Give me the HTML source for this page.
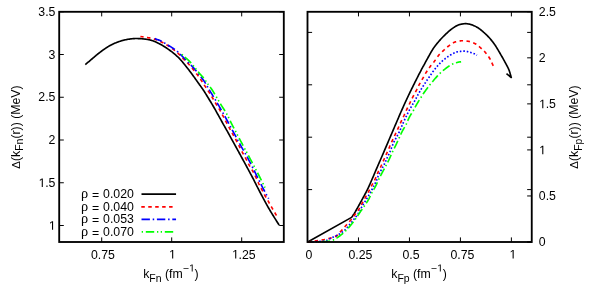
<!DOCTYPE html>
<html><head><meta charset="utf-8"><title>plot</title>
<style>
html,body{margin:0;padding:0;background:#fff;}
body{width:591px;height:295px;overflow:hidden;}
svg{display:block;will-change:transform;}
text{font-family:"Liberation Sans",sans-serif;font-size:12.3px;fill:#000;}
.sub{font-size:10.46px;}
.rho{font-family:"Liberation Serif",serif;font-size:14.3px;}
.c{fill:none;stroke-width:1.65;stroke-linejoin:round;stroke-linecap:butt;}
</style></head><body>
<svg width="591" height="295" viewBox="0 0 591 295">
<rect width="591" height="295" fill="#fff"/>
<g stroke="#000" stroke-width="1" fill="none">
<line x1="101.7" y1="242.0" x2="101.7" y2="237.4"/>
<line x1="101.7" y1="11.8" x2="101.7" y2="16.4"/>
<line x1="171.7" y1="242.0" x2="171.7" y2="237.4"/>
<line x1="171.7" y1="11.8" x2="171.7" y2="16.4"/>
<line x1="241.7" y1="242.0" x2="241.7" y2="237.4"/>
<line x1="241.7" y1="11.8" x2="241.7" y2="16.4"/>
<line x1="59.2" y1="225.50" x2="63.800000000000004" y2="225.50"/>
<line x1="283.8" y1="225.50" x2="279.2" y2="225.50"/>
<line x1="59.2" y1="182.75" x2="63.800000000000004" y2="182.75"/>
<line x1="283.8" y1="182.75" x2="279.2" y2="182.75"/>
<line x1="59.2" y1="140.00" x2="63.800000000000004" y2="140.00"/>
<line x1="283.8" y1="140.00" x2="279.2" y2="140.00"/>
<line x1="59.2" y1="97.25" x2="63.800000000000004" y2="97.25"/>
<line x1="283.8" y1="97.25" x2="279.2" y2="97.25"/>
<line x1="59.2" y1="54.50" x2="63.800000000000004" y2="54.50"/>
<line x1="283.8" y1="54.50" x2="279.2" y2="54.50"/>
<line x1="59.2" y1="11.75" x2="63.800000000000004" y2="11.75"/>
<line x1="283.8" y1="11.75" x2="279.2" y2="11.75"/>
<line x1="307.50" y1="242.0" x2="307.50" y2="237.4"/>
<line x1="307.50" y1="11.8" x2="307.50" y2="16.4"/>
<line x1="358.47" y1="242.0" x2="358.47" y2="237.4"/>
<line x1="358.47" y1="11.8" x2="358.47" y2="16.4"/>
<line x1="409.44" y1="242.0" x2="409.44" y2="237.4"/>
<line x1="409.44" y1="11.8" x2="409.44" y2="16.4"/>
<line x1="460.41" y1="242.0" x2="460.41" y2="237.4"/>
<line x1="460.41" y1="11.8" x2="460.41" y2="16.4"/>
<line x1="511.38" y1="242.0" x2="511.38" y2="237.4"/>
<line x1="511.38" y1="11.8" x2="511.38" y2="16.4"/>
<line x1="307.5" y1="242.00" x2="312.1" y2="242.00"/>
<line x1="531.75" y1="242.00" x2="527.15" y2="242.00"/>
<line x1="307.5" y1="189.60" x2="312.1" y2="189.60"/>
<line x1="531.75" y1="189.60" x2="527.15" y2="189.60"/>
<line x1="307.5" y1="137.20" x2="312.1" y2="137.20"/>
<line x1="531.75" y1="137.20" x2="527.15" y2="137.20"/>
<line x1="307.5" y1="84.80" x2="312.1" y2="84.80"/>
<line x1="531.75" y1="84.80" x2="527.15" y2="84.80"/>
<line x1="307.5" y1="32.40" x2="312.1" y2="32.40"/>
<line x1="531.75" y1="32.40" x2="527.15" y2="32.40"/>
<line x1="531.75" y1="242.00" x2="527.15" y2="242.00"/>
<line x1="531.75" y1="195.96" x2="527.15" y2="195.96"/>
<line x1="531.75" y1="149.92" x2="527.15" y2="149.92"/>
<line x1="531.75" y1="103.88" x2="527.15" y2="103.88"/>
<line x1="531.75" y1="57.84" x2="527.15" y2="57.84"/>
<line x1="531.75" y1="11.80" x2="527.15" y2="11.80"/>
</g>
<g>
<path d="M515 0V1237L197 1010V1180L530 1409H696V0Z" transform="translate(48.91,229.70) scale(0.00601,-0.00601)"/>
<path d="M515 0V1237L197 1010V1180L530 1409H696V0Z" transform="translate(38.65,186.95) scale(0.00601,-0.00601)"/><text x="45.14" y="186.95" style="font-size:12.30px">.5</text>
<text x="48.56" y="144.20" style="font-size:12.30px">2</text>
<text x="38.30" y="101.45" style="font-size:12.30px">2.5</text>
<text x="48.56" y="58.70" style="font-size:12.30px">3</text>
<text x="38.30" y="15.95" style="font-size:12.30px">3.5</text>
<text x="91.03" y="258.50" style="font-size:12.30px">0.75</text>
<path d="M515 0V1237L197 1010V1180L530 1409H696V0Z" transform="translate(169.03,258.50) scale(0.00601,-0.00601)"/>
<path d="M515 0V1237L197 1010V1180L530 1409H696V0Z" transform="translate(232.08,258.50) scale(0.00601,-0.00601)"/><text x="238.57" y="258.50" style="font-size:12.30px">.25</text>
<text x="305.38" y="258.50" style="font-size:12.30px">0</text>
<text x="348.50" y="258.50" style="font-size:12.30px">0.25</text>
<text x="402.39" y="258.50" style="font-size:12.30px">0.5</text>
<text x="450.44" y="258.50" style="font-size:12.30px">0.75</text>
<path d="M515 0V1237L197 1010V1180L530 1409H696V0Z" transform="translate(509.51,258.50) scale(0.00601,-0.00601)"/>
<text x="538.80" y="246.40" style="font-size:12.30px">0</text>
<text x="538.80" y="200.36" style="font-size:12.30px">0.5</text>
<path d="M515 0V1237L197 1010V1180L530 1409H696V0Z" transform="translate(539.15,154.32) scale(0.00601,-0.00601)"/>
<path d="M515 0V1237L197 1010V1180L530 1409H696V0Z" transform="translate(539.15,108.28) scale(0.00601,-0.00601)"/><text x="545.64" y="108.28" style="font-size:12.30px">.5</text>
<text x="538.80" y="62.24" style="font-size:12.30px">2</text>
<text x="538.80" y="16.20" style="font-size:12.30px">2.5</text>
</g>
<!-- left curves -->
<path class="c" stroke="#000" d="M85.30,64.60 L85.85,64.13 L86.41,63.66 L86.97,63.19 L87.53,62.71 L88.09,62.24 L88.64,61.76 L89.20,61.29 L89.75,60.82 L90.30,60.36 L90.84,59.90 L91.37,59.45 L91.90,59.00 L92.42,58.56 L92.92,58.12 L93.42,57.69 L93.92,57.27 L94.41,56.84 L94.89,56.42 L95.38,56.01 L95.86,55.60 L96.34,55.19 L96.82,54.79 L97.31,54.39 L97.80,54.00 L98.29,53.61 L98.78,53.23 L99.27,52.84 L99.77,52.47 L100.26,52.09 L100.75,51.73 L101.24,51.36 L101.73,51.00 L102.22,50.64 L102.72,50.29 L103.21,49.94 L103.70,49.60 L104.19,49.26 L104.68,48.92 L105.17,48.59 L105.66,48.26 L106.15,47.93 L106.64,47.61 L107.13,47.29 L107.63,46.98 L108.12,46.67 L108.61,46.37 L109.10,46.08 L109.60,45.80 L110.10,45.52 L110.60,45.26 L111.10,44.99 L111.60,44.74 L112.10,44.49 L112.60,44.24 L113.10,44.01 L113.60,43.77 L114.10,43.55 L114.60,43.33 L115.10,43.11 L115.60,42.90 L116.10,42.69 L116.59,42.50 L117.08,42.30 L117.57,42.11 L118.07,41.93 L118.56,41.76 L119.05,41.58 L119.54,41.42 L120.03,41.26 L120.52,41.10 L121.01,40.95 L121.50,40.80 L121.99,40.66 L122.48,40.52 L122.96,40.39 L123.44,40.26 L123.92,40.14 L124.41,40.02 L124.89,39.91 L125.38,39.80 L125.88,39.69 L126.38,39.59 L126.88,39.49 L127.40,39.40 L127.93,39.31 L128.47,39.22 L129.01,39.14 L129.57,39.06 L130.13,38.98 L130.69,38.91 L131.26,38.84 L131.82,38.78 L132.38,38.73 L132.93,38.68 L133.47,38.63 L134.00,38.60 L134.52,38.57 L135.03,38.55 L135.53,38.54 L136.03,38.53 L136.52,38.53 L137.01,38.53 L137.50,38.54 L137.99,38.56 L138.49,38.58 L138.98,38.60 L139.49,38.62 L140.00,38.65 L140.52,38.68 L141.05,38.72 L141.59,38.76 L142.14,38.80 L142.68,38.85 L143.23,38.90 L143.78,38.96 L144.32,39.02 L144.85,39.08 L145.38,39.15 L145.90,39.22 L146.40,39.30 L146.89,39.38 L147.36,39.45 L147.83,39.53 L148.29,39.61 L148.74,39.70 L149.18,39.79 L149.63,39.89 L150.07,39.99 L150.52,40.10 L150.97,40.22 L151.43,40.36 L151.90,40.50 L152.38,40.66 L152.86,40.82 L153.35,40.99 L153.84,41.18 L154.33,41.37 L154.83,41.57 L155.32,41.78 L155.82,41.99 L156.32,42.21 L156.81,42.43 L157.31,42.66 L157.80,42.90 L158.30,43.14 L158.80,43.40 L159.30,43.66 L159.81,43.94 L160.31,44.22 L160.82,44.50 L161.32,44.79 L161.81,45.07 L162.30,45.36 L162.78,45.65 L163.25,45.93 L163.70,46.20 L164.14,46.47 L164.56,46.74 L164.98,47.00 L165.39,47.26 L165.78,47.53 L166.18,47.79 L166.56,48.05 L166.95,48.31 L167.33,48.58 L167.72,48.85 L168.11,49.12 L168.50,49.40 L168.89,49.68 L169.28,49.95 L169.65,50.21 L170.03,50.48 L170.40,50.75 L170.78,51.02 L171.16,51.30 L171.55,51.59 L171.94,51.89 L172.35,52.21 L172.77,52.54 L173.20,52.90 L173.65,53.27 L174.12,53.66 L174.60,54.07 L175.09,54.49 L175.58,54.91 L176.09,55.36 L176.60,55.81 L177.10,56.27 L177.61,56.74 L178.11,57.22 L178.61,57.71 L179.10,58.20 L179.58,58.70 L180.05,59.19 L180.51,59.70 L180.96,60.21 L181.42,60.73 L181.88,61.26 L182.34,61.80 L182.80,62.36 L183.28,62.94 L183.77,63.53 L184.28,64.15 L184.80,64.80 L185.35,65.48 L185.92,66.19 L186.50,66.94 L187.11,67.71 L187.72,68.49 L188.34,69.29 L188.96,70.10 L189.57,70.90 L190.18,71.70 L190.77,72.49 L191.35,73.26 L191.90,74.00 L192.44,74.73 L192.96,75.45 L193.47,76.16 L193.98,76.87 L194.47,77.57 L194.96,78.26 L195.44,78.95 L195.92,79.63 L196.40,80.31 L196.87,80.98 L197.33,81.64 L197.80,82.30 L198.27,82.95 L198.74,83.60 L199.20,84.25 L199.67,84.89 L200.13,85.52 L200.58,86.14 L201.03,86.76 L201.47,87.37 L201.89,87.97 L202.31,88.56 L202.71,89.14 L203.10,89.70 L203.46,90.23 L203.78,90.71 L204.08,91.16 L204.36,91.59 L204.62,92.01 L204.89,92.43 L205.16,92.86 L205.44,93.32 L205.75,93.83 L206.09,94.38 L206.47,95.00 L206.90,95.70 L207.38,96.48 L207.90,97.33 L208.46,98.24 L209.04,99.21 L209.65,100.21 L210.28,101.24 L210.92,102.30 L211.56,103.36 L212.19,104.42 L212.81,105.47 L213.42,106.50 L214.00,107.50 L214.56,108.47 L215.11,109.44 L215.65,110.40 L216.18,111.36 L216.71,112.32 L217.24,113.28 L217.77,114.24 L218.30,115.21 L218.83,116.19 L219.38,117.18 L219.93,118.18 L220.50,119.20 L221.07,120.22 L221.64,121.24 L222.22,122.26 L222.79,123.28 L223.37,124.31 L223.96,125.36 L224.56,126.42 L225.17,127.51 L225.80,128.62 L226.45,129.78 L227.11,130.97 L227.80,132.20 L228.52,133.50 L229.29,134.88 L230.09,136.32 L230.91,137.80 L231.74,139.32 L232.59,140.84 L233.43,142.37 L234.26,143.87 L235.07,145.35 L235.85,146.77 L236.60,148.12 L237.30,149.40 L237.95,150.59 L238.56,151.69 L239.13,152.74 L239.67,153.73 L240.20,154.70 L240.71,155.64 L241.22,156.57 L241.74,157.52 L242.26,158.49 L242.81,159.50 L243.39,160.57 L244.00,161.70 L244.65,162.90 L245.33,164.15 L246.02,165.43 L246.74,166.76 L247.47,168.10 L248.21,169.46 L248.95,170.83 L249.68,172.20 L250.41,173.56 L251.13,174.90 L251.82,176.22 L252.50,177.50 L253.15,178.74 L253.77,179.96 L254.38,181.15 L254.97,182.32 L255.55,183.49 L256.14,184.65 L256.72,185.82 L257.32,187.00 L257.93,188.20 L258.56,189.43 L259.21,190.69 L259.90,192.00 L260.62,193.35 L261.36,194.75 L262.12,196.19 L262.90,197.65 L263.70,199.13 L264.51,200.62 L265.32,202.12 L266.14,203.62 L266.96,205.10 L267.78,206.56 L268.59,208.00 L269.40,209.40 L270.20,210.77 L271.01,212.12 L271.81,213.44 L272.62,214.76 L273.43,216.06 L274.24,217.36 L275.05,218.64 L275.86,219.93 L276.67,221.21 L277.48,222.50 L278.29,223.80 L279.10,225.10"/>
<path class="c" stroke="#ff0000" stroke-dasharray="3.5 3.45" stroke-dashoffset="0.27" d="M140.40,36.50 L141.06,36.60 L141.73,36.70 L142.40,36.79 L143.08,36.89 L143.75,36.98 L144.43,37.08 L145.09,37.17 L145.76,37.27 L146.41,37.37 L147.05,37.48 L147.68,37.59 L148.30,37.70 L148.90,37.82 L149.48,37.93 L150.05,38.04 L150.61,38.16 L151.16,38.27 L151.71,38.39 L152.25,38.52 L152.79,38.66 L153.33,38.80 L153.88,38.95 L154.43,39.12 L155.00,39.30 L155.57,39.49 L156.16,39.70 L156.74,39.91 L157.33,40.14 L157.92,40.37 L158.51,40.61 L159.10,40.86 L159.69,41.12 L160.28,41.38 L160.86,41.65 L161.43,41.92 L162.00,42.20 L162.56,42.48 L163.12,42.78 L163.67,43.08 L164.23,43.39 L164.77,43.70 L165.32,44.02 L165.86,44.34 L166.40,44.67 L166.93,45.00 L167.46,45.33 L167.98,45.67 L168.50,46.00 L169.02,46.34 L169.53,46.68 L170.05,47.02 L170.56,47.37 L171.06,47.73 L171.56,48.08 L172.06,48.44 L172.54,48.79 L173.02,49.15 L173.49,49.50 L173.95,49.85 L174.40,50.20 L174.83,50.54 L175.25,50.87 L175.65,51.20 L176.04,51.53 L176.42,51.85 L176.80,52.18 L177.17,52.50 L177.55,52.84 L177.93,53.19 L178.31,53.54 L178.70,53.91 L179.10,54.30 L179.51,54.71 L179.94,55.14 L180.37,55.59 L180.80,56.05 L181.24,56.52 L181.67,56.99 L182.11,57.47 L182.54,57.94 L182.97,58.40 L183.39,58.85 L183.80,59.29 L184.20,59.70 L184.59,60.09 L184.96,60.46 L185.33,60.81 L185.69,61.15 L186.04,61.48 L186.39,61.81 L186.73,62.13 L187.08,62.46 L187.43,62.80 L187.78,63.15 L188.14,63.52 L188.50,63.90 L188.87,64.30 L189.24,64.72 L189.62,65.15 L190.00,65.58 L190.38,66.03 L190.76,66.48 L191.14,66.93 L191.51,67.39 L191.89,67.84 L192.27,68.30 L192.63,68.75 L193.00,69.20 L193.36,69.64 L193.72,70.09 L194.07,70.53 L194.42,70.97 L194.77,71.42 L195.12,71.86 L195.47,72.31 L195.81,72.76 L196.16,73.21 L196.50,73.67 L196.85,74.13 L197.20,74.60 L197.55,75.07 L197.90,75.55 L198.26,76.04 L198.61,76.53 L198.97,77.02 L199.32,77.52 L199.68,78.02 L200.03,78.51 L200.38,79.01 L200.72,79.51 L201.06,80.01 L201.40,80.50 L201.73,80.99 L202.06,81.49 L202.38,81.98 L202.70,82.47 L203.01,82.97 L203.33,83.46 L203.64,83.96 L203.95,84.45 L204.26,84.94 L204.57,85.43 L204.88,85.92 L205.20,86.40 L205.52,86.88 L205.84,87.36 L206.15,87.83 L206.47,88.31 L206.79,88.78 L207.11,89.25 L207.43,89.72 L207.75,90.19 L208.06,90.67 L208.38,91.14 L208.69,91.62 L209.00,92.10 L209.31,92.58 L209.61,93.07 L209.92,93.56 L210.22,94.05 L210.52,94.54 L210.82,95.03 L211.12,95.52 L211.41,96.02 L211.71,96.51 L212.01,97.01 L212.30,97.50 L212.60,98.00 L212.89,98.50 L213.19,99.00 L213.48,99.50 L213.77,100.00 L214.06,100.50 L214.35,101.00 L214.64,101.50 L214.93,102.00 L215.22,102.50 L215.51,103.00 L215.81,103.50 L216.10,104.00 L216.40,104.49 L216.70,104.99 L217.00,105.47 L217.30,105.96 L217.60,106.45 L217.91,106.94 L218.21,107.43 L218.51,107.91 L218.81,108.41 L219.11,108.90 L219.41,109.40 L219.70,109.90 L219.99,110.41 L220.28,110.91 L220.57,111.43 L220.85,111.94 L221.14,112.46 L221.42,112.98 L221.70,113.49 L221.98,114.01 L222.26,114.54 L222.54,115.06 L222.82,115.58 L223.10,116.10 L223.38,116.62 L223.66,117.15 L223.93,117.68 L224.21,118.21 L224.49,118.74 L224.76,119.27 L225.04,119.80 L225.31,120.33 L225.58,120.85 L225.86,121.37 L226.13,121.89 L226.40,122.40 L226.67,122.91 L226.94,123.41 L227.20,123.90 L227.47,124.39 L227.74,124.88 L228.00,125.37 L228.26,125.85 L228.53,126.34 L228.80,126.83 L229.06,127.32 L229.33,127.81 L229.60,128.30 L229.87,128.80 L230.14,129.29 L230.42,129.79 L230.69,130.29 L230.96,130.78 L231.24,131.28 L231.51,131.78 L231.79,132.28 L232.07,132.78 L232.34,133.29 L232.62,133.79 L232.90,134.30 L233.18,134.81 L233.46,135.32 L233.75,135.84 L234.04,136.36 L234.32,136.88 L234.61,137.40 L234.90,137.92 L235.19,138.44 L235.47,138.96 L235.75,139.48 L236.03,139.99 L236.30,140.50 L236.57,141.01 L236.83,141.50 L237.09,142.00 L237.34,142.49 L237.60,142.98 L237.85,143.48 L238.10,143.97 L238.36,144.46 L238.61,144.96 L238.87,145.47 L239.13,145.98 L239.40,146.50 L239.67,147.03 L239.95,147.57 L240.23,148.12 L240.51,148.67 L240.80,149.23 L241.09,149.79 L241.38,150.36 L241.66,150.91 L241.95,151.47 L242.24,152.02 L242.52,152.57 L242.80,153.10 L243.08,153.63 L243.36,154.14 L243.63,154.66 L243.91,155.17 L244.19,155.67 L244.46,156.17 L244.74,156.68 L245.01,157.18 L245.28,157.68 L245.56,158.18 L245.83,158.69 L246.10,159.20 L246.37,159.71 L246.63,160.23 L246.90,160.75 L247.16,161.27 L247.42,161.79 L247.68,162.31 L247.94,162.83 L248.21,163.35 L248.47,163.87 L248.74,164.38 L249.02,164.89 L249.30,165.40 L249.59,165.90 L249.88,166.40 L250.18,166.89 L250.49,167.38 L250.80,167.86 L251.11,168.35 L251.42,168.84 L251.72,169.32 L252.03,169.81 L252.32,170.30 L252.62,170.80 L252.90,171.30 L253.18,171.81 L253.45,172.32 L253.72,172.83 L253.99,173.35 L254.25,173.87 L254.51,174.39 L254.76,174.92 L255.01,175.44 L255.26,175.96 L255.51,176.47 L255.76,176.99 L256.00,177.50 L256.24,178.01 L256.47,178.51 L256.69,179.01 L256.91,179.50 L257.12,180.00 L257.34,180.49 L257.55,180.99 L257.77,181.49 L257.99,181.98 L258.22,182.48 L258.46,182.99 L258.70,183.50 L258.95,184.01 L259.22,184.53 L259.49,185.06 L259.76,185.58 L260.04,186.11 L260.32,186.64 L260.60,187.17 L260.89,187.70 L261.17,188.22 L261.45,188.75 L261.73,189.28 L262.00,189.80 L262.27,190.32 L262.53,190.84 L262.80,191.36 L263.06,191.87 L263.32,192.39 L263.58,192.91 L263.84,193.42 L264.11,193.94 L264.37,194.45 L264.64,194.97 L264.92,195.48 L265.20,196.00 L265.49,196.52 L265.78,197.03 L266.07,197.55 L266.37,198.07 L266.68,198.58 L266.98,199.10 L267.29,199.62 L267.59,200.13 L267.90,200.65 L268.20,201.17 L268.50,201.68 L268.80,202.20 L269.09,202.72 L269.39,203.23 L269.68,203.75 L269.97,204.27 L270.26,204.79 L270.55,205.31 L270.84,205.82 L271.13,206.34 L271.42,206.86 L271.71,207.37 L272.01,207.89 L272.30,208.40 L272.61,208.93 L272.93,209.47 L273.26,210.04 L273.59,210.61 L273.93,211.18 L274.26,211.74 L274.59,212.28 L274.90,212.80 L275.19,213.29 L275.46,213.74 L275.69,214.15 L275.90,214.50 L276.07,214.79 L276.21,215.03 L276.31,215.22 L276.40,215.37 L276.47,215.49 L276.52,215.58 L276.56,215.66 L276.60,215.73 L276.64,215.81 L276.68,215.89 L276.73,215.98 L276.80,216.10"/>
<path class="c" stroke="#0000ff" stroke-dasharray="8.4 2.8 1.5 2.7" stroke-dashoffset="0.89" d="M154.80,38.50 L155.36,38.73 L155.94,38.96 L156.52,39.19 L157.11,39.43 L157.71,39.66 L158.29,39.89 L158.87,40.12 L159.43,40.35 L159.97,40.57 L160.48,40.79 L160.96,41.00 L161.40,41.20 L161.80,41.39 L162.16,41.57 L162.49,41.74 L162.79,41.91 L163.07,42.07 L163.34,42.23 L163.59,42.39 L163.84,42.54 L164.09,42.70 L164.35,42.86 L164.61,43.03 L164.90,43.20 L165.19,43.37 L165.47,43.54 L165.74,43.70 L166.01,43.86 L166.28,44.02 L166.55,44.19 L166.83,44.36 L167.13,44.54 L167.44,44.73 L167.77,44.94 L168.12,45.16 L168.50,45.40 L168.92,45.66 L169.38,45.95 L169.87,46.26 L170.38,46.59 L170.91,46.92 L171.45,47.26 L171.99,47.61 L172.52,47.95 L173.03,48.28 L173.52,48.61 L173.98,48.91 L174.40,49.20 L174.78,49.47 L175.14,49.72 L175.48,49.97 L175.80,50.20 L176.10,50.43 L176.39,50.66 L176.67,50.88 L176.94,51.10 L177.20,51.32 L177.47,51.54 L177.73,51.77 L178.00,52.00 L178.26,52.23 L178.51,52.46 L178.74,52.69 L178.97,52.91 L179.19,53.14 L179.41,53.36 L179.63,53.59 L179.86,53.83 L180.10,54.08 L180.35,54.34 L180.62,54.61 L180.90,54.90 L181.20,55.20 L181.52,55.52 L181.85,55.84 L182.19,56.18 L182.53,56.53 L182.89,56.88 L183.25,57.24 L183.61,57.61 L183.98,57.98 L184.36,58.35 L184.73,58.72 L185.10,59.10 L185.47,59.47 L185.84,59.85 L186.22,60.23 L186.60,60.61 L186.98,60.99 L187.36,61.38 L187.75,61.78 L188.15,62.18 L188.55,62.59 L188.96,63.02 L189.38,63.45 L189.80,63.90 L190.23,64.35 L190.65,64.79 L191.07,65.23 L191.50,65.67 L191.93,66.12 L192.38,66.59 L192.83,67.07 L193.30,67.59 L193.79,68.13 L194.30,68.71 L194.84,69.33 L195.40,70.00 L196.01,70.73 L196.66,71.52 L197.35,72.37 L198.07,73.26 L198.81,74.17 L199.56,75.11 L200.30,76.06 L201.04,77.01 L201.76,77.95 L202.45,78.87 L203.10,79.75 L203.70,80.60 L204.25,81.40 L204.75,82.16 L205.22,82.89 L205.66,83.60 L206.07,84.31 L206.48,85.01 L206.89,85.71 L207.30,86.44 L207.73,87.19 L208.18,87.98 L208.67,88.81 L209.20,89.70 L209.77,90.64 L210.37,91.62 L210.99,92.64 L211.63,93.69 L212.28,94.76 L212.95,95.86 L213.63,96.97 L214.31,98.09 L214.99,99.22 L215.67,100.35 L216.34,101.48 L217.00,102.60 L217.65,103.71 L218.30,104.82 L218.95,105.93 L219.59,107.04 L220.24,108.16 L220.89,109.29 L221.54,110.43 L222.20,111.59 L222.86,112.76 L223.53,113.95 L224.21,115.16 L224.90,116.40 L225.61,117.68 L226.33,119.00 L227.08,120.35 L227.83,121.74 L228.59,123.14 L229.35,124.54 L230.11,125.95 L230.86,127.34 L231.60,128.71 L232.32,130.05 L233.02,131.35 L233.70,132.60 L234.35,133.80 L234.97,134.95 L235.58,136.07 L236.16,137.16 L236.74,138.23 L237.31,139.28 L237.87,140.33 L238.44,141.37 L239.01,142.43 L239.59,143.49 L240.19,144.58 L240.80,145.70 L241.41,146.80 L242.00,147.84 L242.59,148.85 L243.16,149.84 L243.75,150.85 L244.34,151.88 L244.96,152.95 L245.61,154.10 L246.31,155.34 L247.04,156.69 L247.84,158.17 L248.70,159.80 L249.66,161.65 L250.72,163.74 L251.87,166.02 L253.08,168.44 L254.33,170.94 L255.59,173.49 L256.86,176.03 L258.09,178.52 L259.27,180.90 L260.38,183.12 L261.40,185.14 L262.30,186.90 L263.09,188.42 L263.78,189.75 L264.41,190.93 L264.97,191.97 L265.48,192.90 L265.95,193.76 L266.40,194.56 L266.83,195.33 L267.27,196.11 L267.72,196.91 L268.19,197.77 L268.70,198.70"/>
<path class="c" stroke="#00ff00" stroke-dasharray="8.6 2.9 1.4 2.5 1.4 2.8" stroke-dashoffset="15.42" d="M181.80,54.40 L182.15,54.71 L182.50,55.01 L182.84,55.31 L183.19,55.61 L183.53,55.91 L183.88,56.21 L184.23,56.52 L184.58,56.82 L184.93,57.13 L185.28,57.45 L185.64,57.77 L186.00,58.10 L186.35,58.42 L186.69,58.71 L187.01,58.99 L187.33,59.26 L187.65,59.54 L187.98,59.83 L188.33,60.15 L188.69,60.49 L189.09,60.88 L189.52,61.32 L189.98,61.83 L190.50,62.40 L191.08,63.07 L191.73,63.84 L192.43,64.69 L193.18,65.60 L193.95,66.56 L194.74,67.54 L195.53,68.52 L196.30,69.49 L197.05,70.42 L197.76,71.29 L198.41,72.09 L199.00,72.80 L199.53,73.42 L200.01,73.97 L200.45,74.47 L200.87,74.92 L201.25,75.33 L201.62,75.72 L201.97,76.10 L202.31,76.47 L202.65,76.85 L202.99,77.24 L203.34,77.65 L203.70,78.10 L204.07,78.58 L204.44,79.07 L204.80,79.58 L205.16,80.10 L205.52,80.62 L205.87,81.14 L206.22,81.66 L206.57,82.17 L206.91,82.67 L207.25,83.17 L207.58,83.64 L207.90,84.10 L208.22,84.54 L208.53,84.95 L208.83,85.36 L209.13,85.75 L209.42,86.13 L209.71,86.51 L210.00,86.88 L210.28,87.25 L210.56,87.63 L210.84,88.01 L211.12,88.40 L211.40,88.80 L211.67,89.20 L211.92,89.57 L212.16,89.93 L212.39,90.29 L212.62,90.64 L212.85,91.01 L213.09,91.40 L213.34,91.81 L213.62,92.26 L213.91,92.76 L214.24,93.30 L214.60,93.90 L215.00,94.58 L215.45,95.34 L215.92,96.16 L216.43,97.03 L216.95,97.94 L217.49,98.86 L218.03,99.79 L218.56,100.71 L219.08,101.61 L219.58,102.47 L220.06,103.27 L220.50,104.00 L220.91,104.67 L221.30,105.29 L221.68,105.87 L222.04,106.42 L222.39,106.95 L222.73,107.46 L223.06,107.95 L223.39,108.44 L223.72,108.94 L224.04,109.44 L224.37,109.96 L224.70,110.50 L225.03,111.06 L225.36,111.61 L225.69,112.17 L226.01,112.74 L226.33,113.30 L226.65,113.87 L226.97,114.44 L227.28,115.01 L227.59,115.58 L227.89,116.15 L228.20,116.73 L228.50,117.30 L228.78,117.84 L229.03,118.34 L229.25,118.80 L229.46,119.25 L229.67,119.70 L229.88,120.16 L230.11,120.66 L230.37,121.22 L230.67,121.84 L231.02,122.55 L231.43,123.37 L231.90,124.30 L232.45,125.37 L233.06,126.55 L233.73,127.85 L234.45,129.23 L235.21,130.67 L235.99,132.18 L236.80,133.71 L237.61,135.26 L238.43,136.82 L239.24,138.35 L240.03,139.85 L240.80,141.30 L241.56,142.73 L242.32,144.17 L243.10,145.62 L243.88,147.08 L244.66,148.54 L245.44,149.99 L246.22,151.43 L246.99,152.86 L247.74,154.26 L248.48,155.64 L249.20,156.99 L249.90,158.30 L250.59,159.60 L251.28,160.89 L251.97,162.19 L252.64,163.47 L253.31,164.73 L253.96,165.96 L254.59,167.15 L255.20,168.30 L255.78,169.40 L256.32,170.44 L256.83,171.41 L257.30,172.30 L257.72,173.10 L258.07,173.79 L258.39,174.40 L258.66,174.94 L258.91,175.42 L259.14,175.88 L259.35,176.31 L259.57,176.74 L259.79,177.19 L260.03,177.67 L260.30,178.20 L260.60,178.80 L260.93,179.45 L261.27,180.13 L261.62,180.84 L261.99,181.56 L262.36,182.30 L262.73,183.06 L263.11,183.82 L263.49,184.58 L263.87,185.35 L264.25,186.11 L264.63,186.86 L265.00,187.60"/>
<!-- right curves -->
<path class="c" stroke="#000" d="M307.7,242 L351.6,217.4 L351.78,217.14 L351.96,216.88 L352.14,216.62 L352.32,216.37 L352.50,216.12 L352.68,215.86 L352.86,215.60 L353.04,215.34 L353.23,215.07 L353.42,214.79 L353.61,214.50 L353.80,214.20 L353.99,213.90 L354.17,213.62 L354.34,213.34 L354.51,213.06 L354.69,212.77 L354.87,212.47 L355.06,212.16 L355.26,211.81 L355.49,211.42 L355.73,211.00 L356.00,210.53 L356.30,210.00 L356.63,209.41 L356.99,208.78 L357.37,208.09 L357.78,207.37 L358.20,206.61 L358.64,205.82 L359.09,205.01 L359.54,204.19 L360.01,203.34 L360.47,202.50 L360.94,201.65 L361.40,200.80 L361.87,199.94 L362.35,199.06 L362.85,198.16 L363.35,197.24 L363.86,196.31 L364.38,195.38 L364.89,194.43 L365.39,193.49 L365.89,192.55 L366.38,191.62 L366.85,190.70 L367.30,189.80 L367.73,188.91 L368.15,188.04 L368.56,187.17 L368.96,186.30 L369.35,185.44 L369.73,184.59 L370.11,183.73 L370.49,182.87 L370.86,182.01 L371.24,181.15 L371.62,180.28 L372.00,179.40 L372.38,178.52 L372.75,177.66 L373.12,176.81 L373.48,175.96 L373.84,175.10 L374.21,174.24 L374.57,173.36 L374.95,172.47 L375.34,171.55 L375.74,170.60 L376.16,169.62 L376.60,168.60 L377.06,167.55 L377.52,166.47 L378.00,165.37 L378.50,164.25 L379.00,163.11 L379.51,161.94 L380.04,160.74 L380.57,159.53 L381.11,158.28 L381.67,157.01 L382.23,155.72 L382.80,154.40 L383.39,153.04 L383.99,151.63 L384.61,150.18 L385.25,148.69 L385.89,147.18 L386.54,145.65 L387.20,144.11 L387.85,142.58 L388.50,141.05 L389.15,139.54 L389.78,138.05 L390.40,136.60 L391.01,135.16 L391.63,133.71 L392.25,132.26 L392.87,130.81 L393.48,129.38 L394.09,127.95 L394.69,126.54 L395.29,125.16 L395.86,123.81 L396.43,122.50 L396.97,121.23 L397.50,120.00 L398.00,118.83 L398.48,117.73 L398.93,116.67 L399.37,115.65 L399.79,114.67 L400.21,113.70 L400.62,112.75 L401.03,111.79 L401.45,110.83 L401.89,109.85 L402.33,108.84 L402.80,107.80 L403.28,106.72 L403.78,105.63 L404.28,104.52 L404.79,103.41 L405.31,102.28 L405.83,101.15 L406.36,100.02 L406.89,98.88 L407.41,97.75 L407.94,96.62 L408.47,95.51 L409.00,94.40 L409.53,93.30 L410.05,92.21 L410.58,91.11 L411.11,90.03 L411.65,88.94 L412.18,87.86 L412.72,86.78 L413.25,85.70 L413.79,84.62 L414.33,83.54 L414.86,82.47 L415.40,81.40 L415.95,80.30 L416.53,79.17 L417.12,78.00 L417.71,76.83 L418.31,75.65 L418.91,74.49 L419.48,73.37 L420.04,72.29 L420.57,71.26 L421.06,70.32 L421.51,69.46 L421.90,68.70 L422.23,68.07 L422.50,67.57 L422.71,67.18 L422.89,66.87 L423.03,66.62 L423.16,66.41 L423.28,66.21 L423.40,66.00 L423.55,65.75 L423.72,65.46 L423.93,65.08 L424.20,64.60 L424.51,64.03 L424.86,63.39 L425.23,62.71 L425.62,61.98 L426.03,61.22 L426.45,60.44 L426.88,59.64 L427.31,58.84 L427.75,58.05 L428.18,57.27 L428.60,56.52 L429.00,55.80 L429.39,55.11 L429.77,54.43 L430.15,53.75 L430.53,53.09 L430.90,52.42 L431.27,51.77 L431.65,51.12 L432.04,50.47 L432.44,49.83 L432.84,49.18 L433.26,48.54 L433.70,47.90 L434.16,47.26 L434.63,46.61 L435.11,45.96 L435.61,45.31 L436.12,44.67 L436.63,44.03 L437.15,43.40 L437.67,42.77 L438.18,42.16 L438.70,41.56 L439.20,40.97 L439.70,40.40 L440.19,39.84 L440.68,39.30 L441.16,38.78 L441.64,38.26 L442.13,37.75 L442.61,37.26 L443.09,36.77 L443.57,36.29 L444.05,35.81 L444.53,35.34 L445.01,34.87 L445.50,34.40 L445.99,33.93 L446.47,33.47 L446.96,33.02 L447.44,32.56 L447.93,32.12 L448.41,31.67 L448.90,31.24 L449.39,30.81 L449.89,30.40 L450.39,29.99 L450.89,29.59 L451.40,29.20 L451.92,28.82 L452.44,28.43 L452.98,28.05 L453.51,27.68 L454.06,27.32 L454.60,26.96 L455.14,26.62 L455.69,26.30 L456.22,25.99 L456.76,25.70 L457.28,25.44 L457.80,25.20 L458.32,24.99 L458.84,24.80 L459.36,24.63 L459.89,24.49 L460.41,24.36 L460.92,24.25 L461.43,24.15 L461.92,24.07 L462.40,23.99 L462.86,23.92 L463.29,23.86 L463.70,23.80 L464.08,23.75 L464.42,23.71 L464.74,23.68 L465.03,23.66 L465.31,23.65 L465.57,23.64 L465.84,23.65 L466.10,23.67 L466.38,23.69 L466.66,23.72 L466.97,23.76 L467.30,23.80 L467.65,23.85 L468.00,23.90 L468.37,23.96 L468.74,24.02 L469.11,24.09 L469.50,24.17 L469.89,24.26 L470.30,24.36 L470.71,24.47 L471.13,24.60 L471.56,24.74 L472.00,24.90 L472.45,25.07 L472.93,25.26 L473.41,25.46 L473.91,25.67 L474.41,25.89 L474.93,26.12 L475.44,26.37 L475.96,26.63 L476.48,26.91 L476.99,27.19 L477.50,27.49 L478.00,27.80 L478.50,28.13 L478.99,28.47 L479.49,28.83 L479.99,29.21 L480.49,29.60 L480.99,30.00 L481.48,30.41 L481.97,30.82 L482.46,31.24 L482.95,31.66 L483.43,32.08 L483.90,32.50 L484.37,32.92 L484.83,33.33 L485.29,33.75 L485.74,34.17 L486.19,34.59 L486.63,35.02 L487.08,35.45 L487.52,35.90 L487.96,36.36 L488.41,36.82 L488.85,37.30 L489.30,37.80 L489.75,38.30 L490.19,38.81 L490.64,39.33 L491.08,39.85 L491.52,40.38 L491.97,40.92 L492.41,41.49 L492.86,42.06 L493.31,42.66 L493.77,43.28 L494.23,43.93 L494.70,44.60 L495.18,45.31 L495.67,46.06 L496.17,46.85 L496.67,47.67 L497.18,48.50 L497.69,49.35 L498.20,50.20 L498.70,51.06 L499.20,51.90 L499.68,52.73 L500.15,53.53 L500.60,54.30 L501.04,55.05 L501.47,55.79 L501.89,56.52 L502.30,57.24 L502.70,57.96 L503.09,58.66 L503.48,59.36 L503.86,60.04 L504.23,60.72 L504.59,61.39 L504.95,62.05 L505.30,62.70 L505.64,63.34 L505.98,63.95 L506.31,64.55 L506.63,65.14 L506.94,65.72 L507.24,66.29 L507.54,66.86 L507.83,67.44 L508.11,68.01 L508.38,68.60 L508.65,69.19 L508.90,69.80 L509.14,70.42 L509.37,71.05 L509.58,71.68 L509.79,72.32 L509.99,72.97 L510.17,73.61 L510.36,74.26 L510.54,74.91 L510.73,75.56 L510.91,76.21 L511.10,76.86 L511.30,77.50 L506.5,73.7"/>
<path class="c" stroke="#ff0000" stroke-dasharray="3.5 3.45" stroke-dashoffset="6.90" d="M307.70,242.00 L308.43,241.90 L309.17,241.80 L309.92,241.70 L310.67,241.59 L311.42,241.49 L312.17,241.39 L312.91,241.29 L313.64,241.19 L314.36,241.09 L315.06,240.99 L315.74,240.89 L316.40,240.80 L317.03,240.71 L317.64,240.63 L318.23,240.55 L318.81,240.47 L319.37,240.40 L319.92,240.32 L320.46,240.25 L321.00,240.17 L321.54,240.09 L322.09,240.00 L322.64,239.90 L323.20,239.80 L323.77,239.69 L324.33,239.58 L324.90,239.46 L325.47,239.33 L326.04,239.21 L326.61,239.07 L327.17,238.94 L327.74,238.80 L328.31,238.66 L328.87,238.51 L329.44,238.36 L330.00,238.20 L330.56,238.04 L331.12,237.87 L331.68,237.69 L332.24,237.51 L332.80,237.33 L333.36,237.14 L333.91,236.95 L334.47,236.76 L335.03,236.56 L335.58,236.37 L336.14,236.19 L336.70,236.00 L337.08,235.57 L337.47,235.13 L337.85,234.70 L338.24,234.26 L338.63,233.82 L339.01,233.39 L339.40,232.95 L339.78,232.52 L340.16,232.09 L340.54,231.66 L340.92,231.23 L341.30,230.80 L341.67,230.38 L342.04,229.96 L342.41,229.54 L342.77,229.13 L343.14,228.71 L343.50,228.30 L343.86,227.89 L344.23,227.47 L344.59,227.06 L344.96,226.64 L345.33,226.22 L345.70,225.80 L346.08,225.37 L346.46,224.95 L346.84,224.52 L347.23,224.10 L347.62,223.67 L348.01,223.24 L348.39,222.81 L348.78,222.37 L349.17,221.93 L349.55,221.49 L349.93,221.05 L350.30,220.60 L350.67,220.15 L351.04,219.68 L351.41,219.22 L351.77,218.74 L352.13,218.27 L352.49,217.79 L352.85,217.32 L353.21,216.84 L353.56,216.37 L353.91,215.91 L354.26,215.45 L354.60,215.00 L354.94,214.56 L355.27,214.14 L355.61,213.73 L355.93,213.33 L356.26,212.93 L356.58,212.52 L356.90,212.12 L357.22,211.71 L357.54,211.28 L357.86,210.84 L358.18,210.38 L358.50,209.90 L358.82,209.39 L359.15,208.85 L359.47,208.30 L359.80,207.73 L360.12,207.14 L360.44,206.55 L360.76,205.96 L361.08,205.36 L361.39,204.78 L361.70,204.20 L362.00,203.64 L362.30,203.10 L362.59,202.58 L362.87,202.06 L363.14,201.56 L363.41,201.07 L363.68,200.58 L363.94,200.09 L364.20,199.61 L364.46,199.13 L364.71,198.65 L364.97,198.17 L365.24,197.69 L365.50,197.20 L365.77,196.71 L366.03,196.22 L366.30,195.73 L366.57,195.24 L366.84,194.75 L367.11,194.26 L367.37,193.77 L367.64,193.27 L367.91,192.78 L368.17,192.29 L368.44,191.80 L368.70,191.30 L368.96,190.80 L369.22,190.31 L369.48,189.81 L369.73,189.31 L369.99,188.81 L370.24,188.31 L370.50,187.81 L370.76,187.31 L371.01,186.81 L371.27,186.31 L371.53,185.80 L371.80,185.30 L372.07,184.80 L372.34,184.30 L372.62,183.80 L372.90,183.30 L373.18,182.81 L373.46,182.31 L373.74,181.80 L374.02,181.30 L374.30,180.78 L374.57,180.26 L374.84,179.74 L375.10,179.20 L375.36,178.65 L375.60,178.09 L375.85,177.52 L376.09,176.94 L376.33,176.35 L376.56,175.76 L376.80,175.17 L377.03,174.59 L377.27,174.00 L377.51,173.42 L377.75,172.86 L378.00,172.30 L378.25,171.75 L378.51,171.21 L378.77,170.67 L379.04,170.14 L379.30,169.61 L379.57,169.09 L379.83,168.57 L380.10,168.05 L380.36,167.53 L380.61,167.02 L380.86,166.51 L381.10,166.00 L381.33,165.50 L381.56,165.00 L381.78,164.52 L381.99,164.03 L382.20,163.55 L382.41,163.07 L382.61,162.59 L382.82,162.11 L383.03,161.62 L383.25,161.12 L383.47,160.62 L383.70,160.10 L383.94,159.57 L384.18,159.03 L384.43,158.47 L384.68,157.91 L384.93,157.35 L385.19,156.78 L385.44,156.21 L385.70,155.64 L385.95,155.07 L386.21,154.51 L386.46,153.95 L386.70,153.40 L386.94,152.86 L387.18,152.31 L387.42,151.77 L387.65,151.24 L387.89,150.70 L388.12,150.17 L388.35,149.64 L388.58,149.11 L388.81,148.58 L389.04,148.05 L389.27,147.53 L389.50,147.00 L389.73,146.48 L389.95,145.96 L390.18,145.44 L390.40,144.92 L390.62,144.41 L390.84,143.89 L391.06,143.38 L391.28,142.87 L391.51,142.35 L391.73,141.84 L391.96,141.32 L392.20,140.80 L392.44,140.28 L392.68,139.75 L392.93,139.23 L393.18,138.70 L393.43,138.18 L393.69,137.65 L393.94,137.12 L394.20,136.60 L394.45,136.07 L394.70,135.55 L394.95,135.02 L395.20,134.50 L395.45,133.98 L395.69,133.46 L395.93,132.95 L396.17,132.44 L396.42,131.92 L396.66,131.41 L396.90,130.90 L397.14,130.39 L397.38,129.87 L397.62,129.35 L397.86,128.83 L398.10,128.30 L398.34,127.77 L398.58,127.23 L398.82,126.69 L399.06,126.15 L399.30,125.60 L399.54,125.06 L399.78,124.51 L400.03,123.96 L400.27,123.42 L400.51,122.88 L400.75,122.34 L401.00,121.80 L401.25,121.27 L401.50,120.74 L401.75,120.21 L402.00,119.69 L402.25,119.16 L402.50,118.64 L402.75,118.11 L403.00,117.59 L403.25,117.07 L403.50,116.55 L403.75,116.02 L404.00,115.50 L404.24,114.97 L404.49,114.45 L404.73,113.92 L404.97,113.40 L405.21,112.87 L405.45,112.34 L405.69,111.82 L405.93,111.29 L406.17,110.77 L406.41,110.24 L406.66,109.72 L406.90,109.20 L407.15,108.68 L407.39,108.16 L407.64,107.64 L407.89,107.12 L408.14,106.60 L408.39,106.09 L408.64,105.57 L408.90,105.06 L409.15,104.54 L409.40,104.03 L409.65,103.51 L409.90,103.00 L410.15,102.49 L410.40,101.98 L410.65,101.47 L410.89,100.96 L411.14,100.45 L411.39,99.94 L411.64,99.44 L411.89,98.93 L412.14,98.42 L412.39,97.92 L412.64,97.41 L412.90,96.90 L413.16,96.39 L413.42,95.88 L413.69,95.38 L413.96,94.87 L414.22,94.36 L414.49,93.85 L414.76,93.34 L415.03,92.83 L415.30,92.33 L415.57,91.82 L415.84,91.31 L416.10,90.80 L416.36,90.29 L416.62,89.79 L416.87,89.28 L417.12,88.77 L417.37,88.27 L417.62,87.76 L417.88,87.26 L418.13,86.75 L418.39,86.24 L418.66,85.73 L418.92,85.22 L419.20,84.70 L419.48,84.18 L419.77,83.66 L420.07,83.14 L420.37,82.61 L420.67,82.08 L420.97,81.56 L421.28,81.03 L421.59,80.50 L421.90,79.97 L422.20,79.45 L422.50,78.92 L422.80,78.40 L423.09,77.88 L423.38,77.36 L423.67,76.83 L423.96,76.31 L424.25,75.78 L424.53,75.26 L424.82,74.74 L425.11,74.23 L425.40,73.71 L425.69,73.20 L425.99,72.70 L426.30,72.20 L426.61,71.71 L426.92,71.22 L427.24,70.73 L427.56,70.24 L427.88,69.76 L428.21,69.29 L428.53,68.81 L428.86,68.34 L429.19,67.88 L429.53,67.42 L429.86,66.96 L430.20,66.50 L430.54,66.05 L430.88,65.61 L431.23,65.18 L431.58,64.75 L431.93,64.33 L432.29,63.91 L432.64,63.48 L433.00,63.06 L433.35,62.63 L433.70,62.20 L434.05,61.75 L434.40,61.30 L434.74,60.83 L435.08,60.36 L435.42,59.87 L435.75,59.37 L436.09,58.87 L436.42,58.37 L436.75,57.87 L437.09,57.37 L437.44,56.89 L437.78,56.41 L438.14,55.95 L438.50,55.50 L438.87,55.07 L439.24,54.65 L439.62,54.25 L440.00,53.86 L440.38,53.47 L440.77,53.09 L441.16,52.71 L441.56,52.33 L441.96,51.96 L442.37,51.58 L442.78,51.19 L443.20,50.80 L443.62,50.40 L444.05,49.99 L444.49,49.58 L444.93,49.17 L445.38,48.75 L445.83,48.34 L446.29,47.93 L446.74,47.52 L447.21,47.12 L447.67,46.74 L448.13,46.36 L448.60,46.00 L449.07,45.65 L449.53,45.29 L450.00,44.95 L450.46,44.60 L450.93,44.27 L451.41,43.94 L451.89,43.63 L452.37,43.33 L452.86,43.04 L453.37,42.78 L453.88,42.53 L454.40,42.30 L454.94,42.09 L455.49,41.90 L456.05,41.72 L456.61,41.56 L457.19,41.42 L457.77,41.29 L458.36,41.17 L458.95,41.07 L459.54,40.98 L460.13,40.91 L460.72,40.85 L461.30,40.80 L461.88,40.77 L462.47,40.75 L463.06,40.75 L463.65,40.76 L464.24,40.79 L464.83,40.82 L465.42,40.88 L466.01,40.94 L466.59,41.02 L467.17,41.10 L467.74,41.20 L468.30,41.30 L468.86,41.41 L469.41,41.53 L469.96,41.67 L470.51,41.81 L471.05,41.96 L471.59,42.12 L472.13,42.30 L472.66,42.49 L473.18,42.70 L473.69,42.92 L474.20,43.15 L474.70,43.40 L475.19,43.67 L475.67,43.96 L476.15,44.26 L476.61,44.59 L477.07,44.92 L477.52,45.27 L477.98,45.63 L478.42,45.99 L478.87,46.36 L479.31,46.74 L479.76,47.12 L480.20,47.50 L480.65,47.88 L481.10,48.27 L481.54,48.67 L481.99,49.07 L482.44,49.48 L482.88,49.90 L483.32,50.32 L483.75,50.75 L484.18,51.18 L484.59,51.62 L485.00,52.06 L485.40,52.50 L485.79,52.95 L486.17,53.41 L486.55,53.87 L486.92,54.34 L487.29,54.81 L487.64,55.29 L487.99,55.77 L488.33,56.25 L488.66,56.74 L488.99,57.22 L489.30,57.71 L489.60,58.20 L489.89,58.70 L490.18,59.23 L490.46,59.77 L490.73,60.32 L491.00,60.87 L491.25,61.42 L491.49,61.95 L491.72,62.47 L491.94,62.96 L492.14,63.42 L492.33,63.83 L492.50,64.20 L492.65,64.52 L492.78,64.79 L492.88,65.02 L492.97,65.21 L493.05,65.39 L493.12,65.54 L493.18,65.68 L493.24,65.81 L493.29,65.94 L493.36,66.08 L493.42,66.23 L493.50,66.40"/>
<path class="c" stroke="#0000ff" stroke-dasharray="1.6 1.9" stroke-dashoffset="3.26" d="M312.00,242.00 L313.05,241.92 L314.15,241.84 L315.28,241.76 L316.42,241.68 L317.57,241.60 L318.69,241.52 L319.79,241.44 L320.84,241.36 L321.84,241.27 L322.75,241.18 L323.58,241.09 L324.30,241.00 L324.91,240.90 L325.41,240.80 L325.82,240.70 L326.16,240.60 L326.44,240.49 L326.67,240.39 L326.87,240.28 L327.05,240.17 L327.23,240.05 L327.42,239.94 L327.64,239.82 L327.90,239.70 L328.18,239.58 L328.46,239.45 L328.73,239.32 L329.00,239.19 L329.26,239.05 L329.52,238.91 L329.79,238.77 L330.05,238.64 L330.31,238.50 L330.57,238.36 L330.83,238.23 L331.10,238.10 L331.37,237.97 L331.63,237.84 L331.90,237.72 L332.17,237.59 L332.43,237.47 L332.70,237.34 L332.97,237.22 L333.23,237.10 L333.50,236.97 L333.77,236.85 L334.03,236.72 L334.30,236.60 L334.57,236.48 L334.84,236.35 L335.11,236.23 L335.38,236.11 L335.65,235.99 L335.92,235.86 L336.19,235.74 L336.46,235.61 L336.72,235.49 L336.98,235.36 L337.24,235.23 L337.50,235.10 L337.75,234.97 L338.00,234.83 L338.25,234.70 L338.49,234.56 L338.73,234.42 L338.97,234.28 L339.21,234.14 L339.45,234.00 L339.69,233.85 L339.93,233.70 L340.16,233.55 L340.40,233.40 L340.64,233.25 L340.87,233.09 L341.11,232.93 L341.34,232.77 L341.57,232.61 L341.81,232.45 L342.04,232.28 L342.27,232.11 L342.50,231.94 L342.73,231.77 L342.97,231.59 L343.20,231.40 L343.44,231.21 L343.67,231.01 L343.92,230.81 L344.16,230.60 L344.40,230.39 L344.64,230.18 L344.88,229.97 L345.12,229.75 L345.35,229.54 L345.57,229.32 L345.79,229.11 L346.00,228.90 L346.20,228.69 L346.39,228.49 L346.57,228.28 L346.75,228.07 L346.92,227.87 L347.09,227.66 L347.25,227.46 L347.42,227.25 L347.58,227.04 L347.75,226.83 L347.92,226.62 L348.10,226.40 L348.28,226.18 L348.46,225.96 L348.64,225.74 L348.83,225.51 L349.01,225.28 L349.19,225.06 L349.38,224.83 L349.56,224.60 L349.75,224.37 L349.93,224.15 L350.12,223.92 L350.30,223.70 L350.48,223.48 L350.67,223.26 L350.85,223.05 L351.04,222.83 L351.22,222.62 L351.41,222.41 L351.59,222.19 L351.77,221.98 L351.96,221.76 L352.14,221.54 L352.32,221.32 L352.50,221.10 L352.68,220.87 L352.86,220.64 L353.03,220.41 L353.21,220.17 L353.38,219.94 L353.56,219.70 L353.73,219.46 L353.90,219.23 L354.08,218.99 L354.25,218.76 L354.43,218.53 L354.60,218.30 L354.78,218.08 L354.95,217.86 L355.13,217.65 L355.30,217.44 L355.48,217.23 L355.66,217.02 L355.83,216.81 L356.01,216.60 L356.18,216.38 L356.36,216.16 L356.53,215.93 L356.70,215.70 L356.87,215.46 L357.04,215.21 L357.21,214.95 L357.38,214.69 L357.55,214.42 L357.72,214.15 L357.89,213.88 L358.05,213.61 L358.22,213.35 L358.38,213.09 L358.54,212.84 L358.70,212.60 L358.86,212.37 L359.02,212.15 L359.17,211.93 L359.33,211.72 L359.48,211.52 L359.64,211.31 L359.79,211.11 L359.94,210.90 L360.08,210.69 L360.23,210.47 L360.36,210.24 L360.50,210.00 L360.61,209.78 L360.69,209.59 L360.74,209.43 L360.78,209.27 L360.82,209.11 L360.86,208.93 L360.93,208.72 L361.02,208.46 L361.15,208.15 L361.34,207.76 L361.58,207.28 L361.90,206.70 L362.30,206.01 L362.77,205.22 L363.30,204.35 L363.89,203.40 L364.51,202.39 L365.17,201.34 L365.84,200.25 L366.52,199.14 L367.20,198.03 L367.86,196.93 L368.50,195.85 L369.10,194.80 L369.69,193.75 L370.29,192.66 L370.91,191.54 L371.52,190.40 L372.13,189.26 L372.74,188.12 L373.32,187.00 L373.89,185.91 L374.43,184.86 L374.93,183.87 L375.39,182.95 L375.80,182.10 L376.16,181.33 L376.47,180.64 L376.73,180.00 L376.96,179.42 L377.15,178.88 L377.33,178.37 L377.50,177.89 L377.66,177.42 L377.82,176.96 L377.99,176.49 L378.18,176.01 L378.40,175.50 L378.64,174.99 L378.87,174.48 L379.11,173.99 L379.36,173.50 L379.61,173.01 L379.86,172.53 L380.11,172.05 L380.36,171.57 L380.62,171.09 L380.88,170.60 L381.14,170.10 L381.40,169.60 L381.67,169.09 L381.94,168.57 L382.22,168.05 L382.50,167.53 L382.78,167.00 L383.06,166.47 L383.35,165.94 L383.63,165.41 L383.90,164.88 L384.18,164.35 L384.44,163.82 L384.70,163.30 L384.95,162.78 L385.20,162.25 L385.45,161.71 L385.69,161.18 L385.93,160.64 L386.16,160.11 L386.39,159.59 L386.62,159.07 L386.85,158.56 L387.07,158.06 L387.29,157.57 L387.50,157.10 L387.70,156.66 L387.89,156.27 L388.07,155.91 L388.23,155.57 L388.40,155.24 L388.56,154.91 L388.73,154.56 L388.91,154.19 L389.10,153.77 L389.31,153.31 L389.54,152.79 L389.80,152.20 L390.08,151.53 L390.38,150.79 L390.69,150.00 L391.02,149.16 L391.36,148.28 L391.71,147.37 L392.08,146.44 L392.45,145.51 L392.83,144.58 L393.21,143.66 L393.61,142.77 L394.00,141.90 L394.41,141.06 L394.83,140.21 L395.27,139.37 L395.73,138.53 L396.19,137.70 L396.65,136.86 L397.11,136.03 L397.57,135.20 L398.03,134.37 L398.47,133.55 L398.89,132.72 L399.30,131.90 L399.69,131.08 L400.05,130.28 L400.40,129.48 L400.74,128.69 L401.08,127.89 L401.41,127.10 L401.73,126.30 L402.07,125.50 L402.41,124.70 L402.75,123.88 L403.12,123.05 L403.50,122.20 L403.90,121.34 L404.30,120.46 L404.71,119.57 L405.13,118.67 L405.56,117.76 L405.99,116.85 L406.43,115.93 L406.87,115.02 L407.32,114.10 L407.78,113.20 L408.24,112.29 L408.70,111.40 L409.18,110.51 L409.67,109.60 L410.19,108.69 L410.71,107.78 L411.23,106.87 L411.76,105.96 L412.29,105.07 L412.80,104.19 L413.31,103.33 L413.79,102.49 L414.26,101.68 L414.70,100.90 L415.11,100.15 L415.50,99.44 L415.87,98.75 L416.22,98.09 L416.56,97.44 L416.89,96.81 L417.22,96.18 L417.54,95.57 L417.87,94.96 L418.20,94.35 L418.55,93.73 L418.90,93.10 L419.26,92.47 L419.62,91.86 L419.98,91.25 L420.33,90.64 L420.69,90.04 L421.06,89.44 L421.42,88.84 L421.80,88.23 L422.18,87.62 L422.58,86.99 L422.98,86.35 L423.40,85.70 L423.83,85.03 L424.28,84.35 L424.73,83.65 L425.20,82.95 L425.67,82.24 L426.15,81.52 L426.64,80.80 L427.13,80.07 L427.62,79.35 L428.11,78.63 L428.61,77.91 L429.10,77.20 L429.60,76.48 L430.10,75.76 L430.60,75.03 L431.11,74.29 L431.63,73.55 L432.14,72.82 L432.66,72.09 L433.17,71.38 L433.69,70.68 L434.20,70.00 L434.70,69.33 L435.20,68.70 L435.70,68.08 L436.20,67.48 L436.71,66.88 L437.22,66.30 L437.73,65.74 L438.23,65.19 L438.73,64.65 L439.21,64.14 L439.68,63.65 L440.14,63.17 L440.58,62.73 L441.00,62.30 L441.39,61.91 L441.75,61.56 L442.08,61.24 L442.40,60.94 L442.70,60.67 L442.99,60.41 L443.29,60.15 L443.59,59.90 L443.91,59.65 L444.24,59.38 L444.61,59.10 L445.00,58.80 L445.42,58.48 L445.87,58.14 L446.33,57.79 L446.81,57.43 L447.31,57.07 L447.81,56.71 L448.32,56.35 L448.84,55.99 L449.36,55.65 L449.88,55.32 L450.39,55.00 L450.90,54.70 L451.42,54.41 L451.95,54.13 L452.50,53.85 L453.05,53.59 L453.61,53.32 L454.16,53.08 L454.71,52.84 L455.24,52.61 L455.75,52.41 L456.23,52.22 L456.68,52.05 L457.10,51.90 L457.48,51.78 L457.81,51.68 L458.12,51.61 L458.40,51.56 L458.67,51.52 L458.91,51.49 L459.15,51.48 L459.39,51.47 L459.62,51.46 L459.87,51.45 L460.12,51.43 L460.40,51.40 L460.69,51.37 L460.98,51.33 L461.28,51.29 L461.58,51.26 L461.88,51.22 L462.19,51.19 L462.49,51.16 L462.80,51.13 L463.10,51.11 L463.40,51.10 L463.70,51.10 L464.00,51.10 L464.29,51.11 L464.55,51.12 L464.81,51.13 L465.06,51.15 L465.31,51.17 L465.56,51.20 L465.83,51.24 L466.11,51.29 L466.41,51.34 L466.74,51.41 L467.10,51.50 L467.50,51.60 L467.95,51.72 L468.46,51.86 L469.02,52.02 L469.61,52.20 L470.22,52.39 L470.84,52.58 L471.46,52.78 L472.06,52.98 L472.64,53.17 L473.18,53.36 L473.67,53.54 L474.10,53.70 L474.47,53.85 L474.80,54.00 L475.09,54.14 L475.34,54.27 L475.57,54.40 L475.78,54.53 L475.98,54.66 L476.17,54.79 L476.36,54.91 L476.56,55.04 L476.77,55.17 L477.00,55.30"/>
<path class="c" stroke="#00ff00" stroke-dasharray="8.4 2.8 1.5 2.7" stroke-dashoffset="11.63" d="M318.00,242.00 L319.00,241.93 L320.03,241.86 L321.09,241.79 L322.16,241.73 L323.23,241.67 L324.29,241.60 L325.32,241.53 L326.32,241.46 L327.27,241.38 L328.16,241.30 L328.97,241.20 L329.70,241.10 L330.33,240.99 L330.87,240.89 L331.34,240.78 L331.74,240.67 L332.09,240.56 L332.41,240.44 L332.71,240.30 L333.00,240.16 L333.30,240.00 L333.63,239.82 L333.99,239.62 L334.40,239.40 L334.85,239.16 L335.31,238.89 L335.79,238.61 L336.27,238.31 L336.77,238.00 L337.27,237.68 L337.77,237.34 L338.28,236.99 L338.79,236.63 L339.30,236.26 L339.80,235.88 L340.30,235.50 L340.80,235.11 L341.31,234.70 L341.82,234.28 L342.33,233.85 L342.84,233.41 L343.36,232.96 L343.87,232.51 L344.37,232.05 L344.87,231.59 L345.36,231.12 L345.83,230.66 L346.30,230.20 L346.75,229.74 L347.20,229.28 L347.63,228.81 L348.06,228.34 L348.48,227.87 L348.89,227.39 L349.30,226.92 L349.71,226.44 L350.11,225.96 L350.51,225.47 L350.90,224.99 L351.30,224.50 L351.70,224.01 L352.09,223.51 L352.48,223.01 L352.87,222.50 L353.25,222.00 L353.63,221.49 L354.01,220.98 L354.38,220.47 L354.74,219.97 L355.10,219.47 L355.45,218.98 L355.80,218.50 L356.13,218.03 L356.45,217.57 L356.76,217.12 L357.05,216.68 L357.34,216.24 L357.63,215.81 L357.92,215.37 L358.21,214.92 L358.52,214.46 L358.83,213.99 L359.16,213.51 L359.50,213.00 L359.86,212.47 L360.24,211.93 L360.64,211.36 L361.04,210.79 L361.45,210.20 L361.87,209.61 L362.29,209.02 L362.70,208.42 L363.12,207.83 L363.52,207.24 L363.92,206.67 L364.30,206.10 L364.67,205.55 L365.04,205.00 L365.41,204.46 L365.77,203.93 L366.13,203.39 L366.48,202.86 L366.83,202.33 L367.17,201.80 L367.51,201.26 L367.85,200.71 L368.18,200.16 L368.50,199.60 L368.82,199.03 L369.12,198.44 L369.42,197.85 L369.71,197.25 L370.00,196.64 L370.29,196.04 L370.57,195.43 L370.85,194.83 L371.13,194.23 L371.42,193.64 L371.71,193.07 L372.00,192.50 L372.30,191.95 L372.60,191.42 L372.90,190.89 L373.20,190.38 L373.50,189.87 L373.81,189.37 L374.11,188.86 L374.41,188.35 L374.71,187.83 L375.01,187.30 L375.31,186.76 L375.60,186.20 L375.89,185.62 L376.18,185.02 L376.46,184.41 L376.74,183.79 L377.03,183.16 L377.31,182.52 L377.59,181.89 L377.87,181.26 L378.15,180.63 L378.43,180.01 L378.71,179.40 L379.00,178.80 L379.29,178.22 L379.58,177.64 L379.87,177.08 L380.16,176.51 L380.45,175.96 L380.74,175.41 L381.03,174.86 L381.32,174.31 L381.62,173.76 L381.91,173.21 L382.20,172.66 L382.50,172.10 L382.80,171.54 L383.10,170.98 L383.40,170.43 L383.70,169.87 L384.00,169.31 L384.31,168.76 L384.61,168.20 L384.91,167.64 L385.21,167.08 L385.51,166.52 L385.81,165.96 L386.10,165.40 L386.39,164.84 L386.68,164.27 L386.97,163.71 L387.26,163.15 L387.55,162.58 L387.83,162.02 L388.11,161.45 L388.40,160.89 L388.68,160.32 L388.95,159.75 L389.23,159.17 L389.50,158.60 L389.77,158.02 L390.03,157.44 L390.29,156.85 L390.55,156.27 L390.80,155.68 L391.06,155.09 L391.31,154.50 L391.56,153.91 L391.82,153.33 L392.08,152.75 L392.34,152.17 L392.60,151.60 L392.87,151.04 L393.14,150.48 L393.41,149.93 L393.69,149.39 L393.97,148.84 L394.24,148.30 L394.52,147.76 L394.80,147.21 L395.08,146.67 L395.35,146.12 L395.63,145.56 L395.90,145.00 L396.17,144.43 L396.44,143.85 L396.71,143.27 L396.97,142.69 L397.24,142.10 L397.51,141.51 L397.77,140.92 L398.04,140.33 L398.30,139.75 L398.57,139.16 L398.83,138.58 L399.10,138.00 L399.36,137.43 L399.63,136.85 L399.89,136.28 L400.14,135.71 L400.40,135.15 L400.66,134.58 L400.92,134.02 L401.19,133.45 L401.46,132.89 L401.73,132.33 L402.01,131.76 L402.30,131.20 L402.60,130.64 L402.91,130.08 L403.22,129.53 L403.54,128.98 L403.87,128.43 L404.20,127.87 L404.53,127.32 L404.86,126.77 L405.18,126.21 L405.49,125.64 L405.80,125.08 L406.10,124.50 L406.39,123.92 L406.66,123.32 L406.93,122.72 L407.19,122.11 L407.44,121.50 L407.69,120.89 L407.95,120.28 L408.20,119.67 L408.46,119.06 L408.73,118.47 L409.01,117.88 L409.30,117.30 L409.60,116.73 L409.91,116.18 L410.23,115.63 L410.56,115.09 L410.89,114.55 L411.22,114.01 L411.56,113.48 L411.90,112.95 L412.23,112.42 L412.56,111.88 L412.88,111.34 L413.20,110.80 L413.51,110.25 L413.81,109.70 L414.11,109.15 L414.41,108.60 L414.70,108.05 L414.99,107.50 L415.29,106.95 L415.58,106.40 L415.88,105.85 L416.18,105.30 L416.49,104.75 L416.80,104.20 L417.12,103.65 L417.45,103.10 L417.78,102.55 L418.11,102.00 L418.45,101.44 L418.79,100.89 L419.13,100.35 L419.47,99.80 L419.81,99.27 L420.15,98.74 L420.48,98.21 L420.80,97.70 L421.11,97.20 L421.42,96.72 L421.71,96.25 L422.00,95.79 L422.29,95.33 L422.58,94.88 L422.87,94.42 L423.17,93.96 L423.48,93.49 L423.80,93.01 L424.14,92.51 L424.50,92.00 L424.88,91.46 L425.28,90.91 L425.70,90.33 L426.14,89.75 L426.58,89.15 L427.03,88.56 L427.49,87.96 L427.94,87.36 L428.39,86.78 L428.84,86.20 L429.28,85.64 L429.70,85.10 L430.11,84.58 L430.52,84.07 L430.92,83.57 L431.31,83.08 L431.71,82.60 L432.10,82.12 L432.49,81.65 L432.89,81.19 L433.28,80.72 L433.68,80.25 L434.09,79.78 L434.50,79.30 L434.92,78.82 L435.34,78.33 L435.76,77.85 L436.19,77.36 L436.62,76.87 L437.05,76.39 L437.48,75.91 L437.92,75.43 L438.36,74.96 L438.81,74.50 L439.25,74.04 L439.70,73.60 L440.15,73.17 L440.60,72.74 L441.06,72.33 L441.51,71.91 L441.97,71.51 L442.43,71.11 L442.90,70.72 L443.37,70.33 L443.84,69.94 L444.32,69.56 L444.81,69.18 L445.30,68.80 L445.80,68.42 L446.31,68.03 L446.83,67.64 L447.35,67.25 L447.88,66.87 L448.41,66.49 L448.95,66.12 L449.48,65.76 L450.02,65.42 L450.55,65.09 L451.08,64.78 L451.60,64.50 L452.13,64.24 L452.67,63.99 L453.23,63.76 L453.78,63.55 L454.34,63.35 L454.89,63.16 L455.43,62.99 L455.95,62.83 L456.46,62.68 L456.94,62.54 L457.39,62.42 L457.80,62.30 L458.18,62.20 L458.52,62.12 L458.83,62.06 L459.11,62.01 L459.38,61.97 L459.63,61.94 L459.87,61.92 L460.11,61.90 L460.34,61.89 L460.58,61.86 L460.83,61.84 L461.10,61.80"/>
<!-- frames -->
<g stroke="#000" stroke-width="1.85" fill="none">
<rect x="59.2" y="11.8" width="224.60" height="230.20"/>
<rect x="307.5" y="11.8" width="224.25" height="230.20"/>
</g>
<!-- legend -->
<g>
<text class="rho" x="81.0" y="198.1">ρ</text><text x="95.5" y="199.1" text-anchor="middle">=</text><text x="133.9" y="198.1" text-anchor="end">0.020</text>
<text class="rho" x="81.0" y="210.7">ρ</text><text x="95.5" y="211.7" text-anchor="middle">=</text><text x="133.9" y="210.7" text-anchor="end">0.040</text>
<text class="rho" x="81.0" y="223.3">ρ</text><text x="95.5" y="224.3" text-anchor="middle">=</text><text x="133.9" y="223.3" text-anchor="end">0.053</text>
<text class="rho" x="81.0" y="235.9">ρ</text><text x="95.5" y="236.9" text-anchor="middle">=</text><text x="133.9" y="235.9" text-anchor="end">0.070</text>
<path class="c" stroke="#000" d="M141.5,194.1 H176.05"/>
<path class="c" stroke="#ff0000" stroke-dasharray="3.5 3.45" d="M141.3,206.8 H176.05"/>
<path class="c" stroke="#0000ff" stroke-dasharray="8.4 2.8 1.5 2.7" d="M141.5,219.3 H176.05"/>
<path class="c" stroke="#00ff00" stroke-dasharray="1.3 2.8 8.4 2.8 1.3 2.4" d="M141.7,231.9 H174"/>
</g>
<!-- axis labels -->
<text x="143.13" y="277.70" style="font-size:12.30px" xml:space="preserve">k</text><text x="149.28" y="281.50" style="font-size:10.46px" xml:space="preserve">Fn</text><text x="161.48" y="277.70" style="font-size:12.30px" xml:space="preserve"> (fm</text><text x="182.65" y="271.60" style="font-size:10.46px">−</text><path d="M515 0V1237L197 1010V1180L530 1409H696V0Z" transform="translate(189.11,271.60) scale(0.00510,-0.00510)"/><text x="194.58" y="277.70" style="font-size:12.30px" xml:space="preserve">)</text>
<text x="391.23" y="277.70" style="font-size:12.30px" xml:space="preserve">k</text><text x="397.38" y="281.50" style="font-size:10.46px" xml:space="preserve">Fp</text><text x="409.58" y="277.70" style="font-size:12.30px" xml:space="preserve"> (fm</text><text x="430.75" y="271.60" style="font-size:10.46px">−</text><path d="M515 0V1237L197 1010V1180L530 1409H696V0Z" transform="translate(437.21,271.60) scale(0.00510,-0.00510)"/><text x="442.68" y="277.70" style="font-size:12.30px" xml:space="preserve">)</text>
<text transform="translate(19.55,127.0) rotate(-90)" text-anchor="middle"><tspan style="font-size:11.4px">Δ</tspan>(k<tspan class="sub" dy="3.8">Fn</tspan><tspan dy="-3.8">(r)) (MeV)</tspan></text>
<text transform="translate(577.8,127.0) rotate(-90)" text-anchor="middle"><tspan style="font-size:11.4px">Δ</tspan>(k<tspan class="sub" dy="3.8">Fp</tspan><tspan dy="-3.8">(r)) (MeV)</tspan></text>
</svg>
</body></html>
